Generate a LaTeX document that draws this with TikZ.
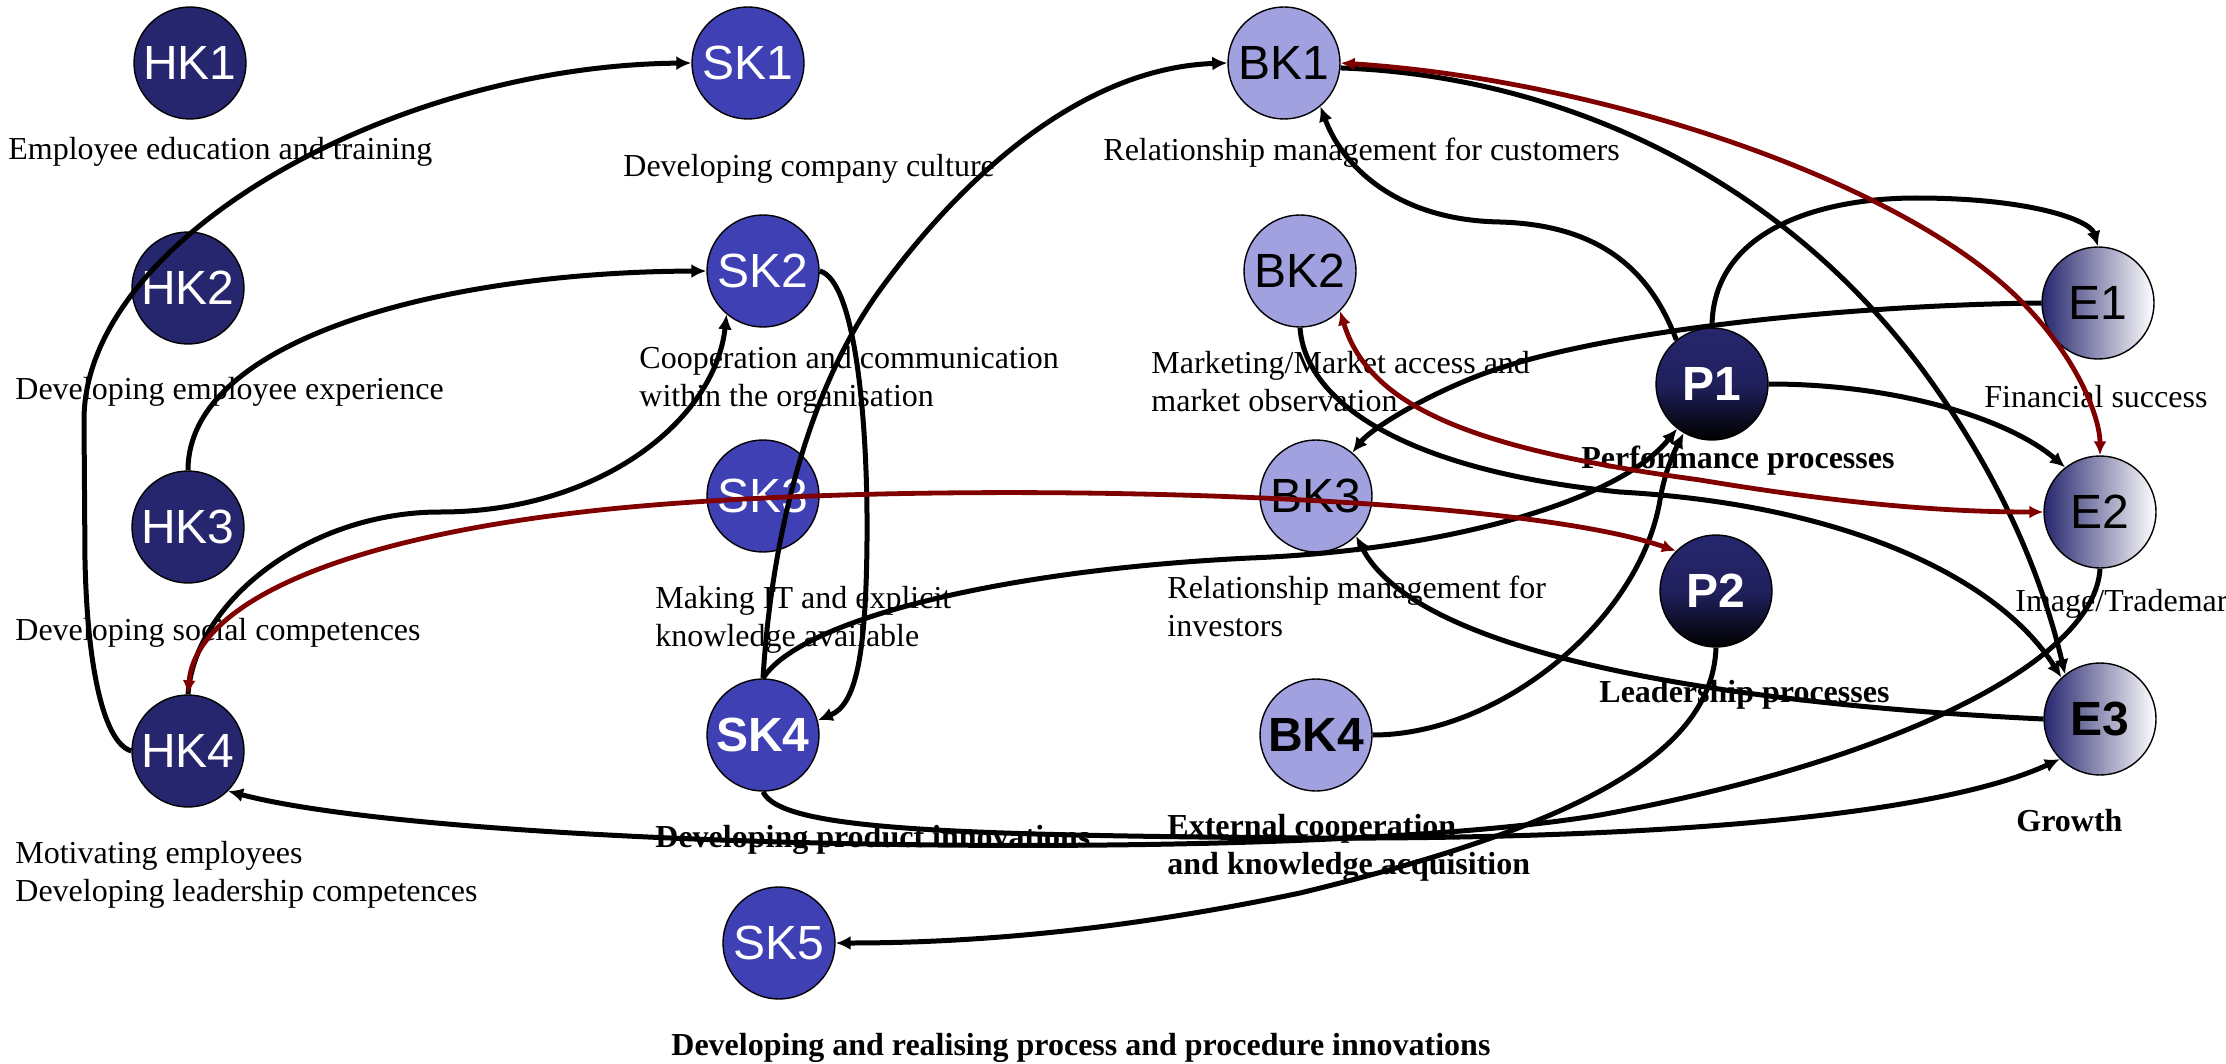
\documentclass[tikz,border=0pt]{standalone}
\usepackage{fontspec}
\setmainfont{Liberation Serif}
\newfontfamily\nodefont{Liberation Sans}
\usetikzlibrary{arrows.meta}
\definecolor{hkblue}{RGB}{38,38,110}
\definecolor{skblue}{RGB}{64,64,181}
\definecolor{bkblue}{RGB}{161,161,224}
\definecolor{darkred}{RGB}{128,0,0}
\begin{document}
\begin{tikzpicture}[x=0.5pt,y=-0.5pt,
  knot/.style={circle,draw=black,line width=0.7pt,minimum size=56pt,inner sep=0pt,font=\nodefont\fontsize{24}{28}\selectfont},
  boldknot/.style={font=\nodefont\bfseries\fontsize{24}{28}\selectfont},
  hk/.style={knot,fill=hkblue,text=white},
  sk/.style={knot,fill=skblue,text=white},
  bk/.style={knot,fill=bkblue,text=black},
  pk/.style={knot,boldknot,top color=hkblue,bottom color=black,middle color=hkblue!85!black,text=white},
  ek/.style={knot,left color=hkblue,right color=white,text=black},
  lbl/.style={anchor=base west,inner sep=0pt,font=\fontsize{16}{19}\selectfont},
  blbl/.style={lbl,font=\fontsize{16}{19}\selectfont\bfseries},
  conn/.style={line width=2.5pt,draw=black,-{Latex[length=7.5pt,width=7pt]}},
  redconn/.style={line width=2.4pt,draw=darkred,{Latex[length=7pt,width=6.5pt]}-{Latex[length=7pt,width=6.5pt]}},
]
\useasboundingbox (0,0) rectangle (2226,1064);

% nodes
\node[hk] (HK1) at (190,63) {HK1};
\node[hk] (HK2) at (188,288) {HK2};
\node[hk] (HK3) at (188,527) {HK3};
\node[hk] (HK4) at (188,751) {HK4};
\node[sk] (SK1) at (748,63) {SK1};
\node[sk] (SK2) at (763,271) {SK2};
\node[sk] (SK3) at (763,496) {SK3};
\node[sk,boldknot] (SK4) at (763,735) {SK4};
\node[sk] (SK5) at (779,943) {SK5};
\node[bk] (BK1) at (1284,63) {BK1};
\node[bk] (BK2) at (1300,271) {BK2};
\node[bk] (BK3) at (1316,496) {BK3};
\node[bk,boldknot] (BK4) at (1316,735) {BK4};
\node[pk] (P1) at (1712,384) {P1};
\node[pk] (P2) at (1716,591) {P2};
\node[ek] (E1) at (2098,303) {E1};
\node[ek] (E2) at (2100,512) {E2};
\node[ek,boldknot] (E3) at (2100,719) {E3};

% labels
\node[lbl] (lHK1) at (8,160) {Employee education and training};
\node[lbl] (lHK2) at (15,399) {Developing employee experience};
\node[lbl] (lHK3) at (15,640) {Developing social competences};
\node[lbl] (lHK4) at (15,863) {\begin{tabular}[t]{@{}l@{}}Motivating employees\\Developing leadership competences\end{tabular}};
\node[lbl] (lSK1) at (623,177) {Developing company culture};
\node[lbl] (lSK2) at (639,368) {\begin{tabular}[t]{@{}l@{}}Cooperation and communication\\within the organisation\end{tabular}};
\node[lbl] (lSK3) at (655,608) {\begin{tabular}[t]{@{}l@{}}Making IT and explicit\\knowledge available\end{tabular}};
\node[blbl] (lSK4) at (655,847) {Developing product innovations};
\node[blbl] (lSK5) at (671,1055) {Developing and realising process and procedure innovations};
\node[lbl] (lBK1) at (1103,161) {Relationship management for customers};
\node[lbl] (lBK2) at (1151,373) {\begin{tabular}[t]{@{}l@{}}Marketing/Market access and\\market observation\end{tabular}};
\node[lbl] (lBK3) at (1167,598) {\begin{tabular}[t]{@{}l@{}}Relationship management for\\investors\end{tabular}};
\node[blbl] (lBK4) at (1167,836) {\begin{tabular}[t]{@{}l@{}}External cooperation\\and knowledge acquisition\end{tabular}};
\node[blbl] (lP1) at (1581,468) {Performance processes};
\node[blbl] (lP2) at (1599,702) {Leadership processes};
\node[lbl] (lE1) at (1984,407) {Financial success};
\node[lbl] (lE2) at (2015,611) {Image/Trademark};
\node[blbl] (lE3) at (2016,831) {Growth};

% black connectors
\draw[conn] (HK4.west) .. controls (102,742) and (87,660) .. (85,560) -- (84,420) .. controls (84,240) and (390,66) .. (SK1.west);
\draw[conn] (HK3.north) .. controls (188,340) and (440,272) .. (SK2.west);
\draw[conn] (HK4.north) .. controls (195,600) and (310,512) .. (440,512) .. controls (600,512) and (715,420) .. (SK2.230);
\draw[conn] (SK2.east) .. controls (855,280) and (868,420) .. (867,540) .. controls (866,660) and (855,705) .. (SK4.15);
\draw[conn] (SK4.north) .. controls (770,560) and (800,400) .. (880,290) .. controls (960,180) and (1080,68) .. (BK1.west);
\draw[conn] (SK4.north) .. controls (800,620) and (1000,570) .. (1250,558) .. controls (1450,550) and (1620,500) .. (P1.232);
\draw[conn] (SK4.south) .. controls (780,830) and (950,835) .. (1300,838) .. controls (1700,840) and (1950,810) .. (E3.225);
\draw[conn] (BK4.east) .. controls (1500,735) and (1640,620) .. (1660,500) .. controls (1665,470) and (1675,450) .. (P1.240);
\draw[conn] (P1.129) .. controls (1650,270) and (1600,225) .. (1500,222) .. controls (1390,220) and (1340,160) .. (BK1.-50);
\draw[conn] (BK1.-5) .. controls (1550,75) and (1780,170) .. (1930,380) .. controls (2010,492) and (2045,590) .. (E3.128);
\draw[conn] (P1.north) .. controls (1712,230) and (1820,198) .. (1916,198) .. controls (2030,198) and (2090,220) .. (E1.north);
\draw[conn] (E1.west) .. controls (1850,305) and (1600,330) .. (1480,375) .. controls (1420,398) and (1370,430) .. (BK3.50);
\draw[conn] (P1.east) .. controls (1900,384) and (2010,420) .. (E2.128);
\draw[conn] (BK2.south) .. controls (1305,400) and (1400,470) .. (1620,492) .. controls (1850,505) and (2000,580) .. (E3.133);
\draw[conn] (E2.south) .. controls (2095,660) and (1900,760) .. (1600,815) .. controls (1300,865) and (450,850) .. (HK4.-45);
\draw[conn] (P2.south) .. controls (1712,760) and (1560,830) .. (1300,893) .. controls (1100,935) and (950,943) .. (SK5.east);
\draw[conn] (E3.west) .. controls (1750,705) and (1420,660) .. (BK3.-45);

% red double connectors
\draw[redconn] (HK4.north) .. controls (195,610) and (320,540) .. (600,510) .. controls (900,478) and (1500,490) .. (P2.135);
\draw[redconn] (BK2.-45) .. controls (1370,410) and (1480,450) .. (1700,480) .. controls (1850,505) and (1950,512) .. (E2.west);
\draw[redconn] (BK1.east) .. controls (1600,80) and (1900,180) .. (2020,300) .. controls (2080,360) and (2100,420) .. (E2.north);
\end{tikzpicture}
\end{document}
